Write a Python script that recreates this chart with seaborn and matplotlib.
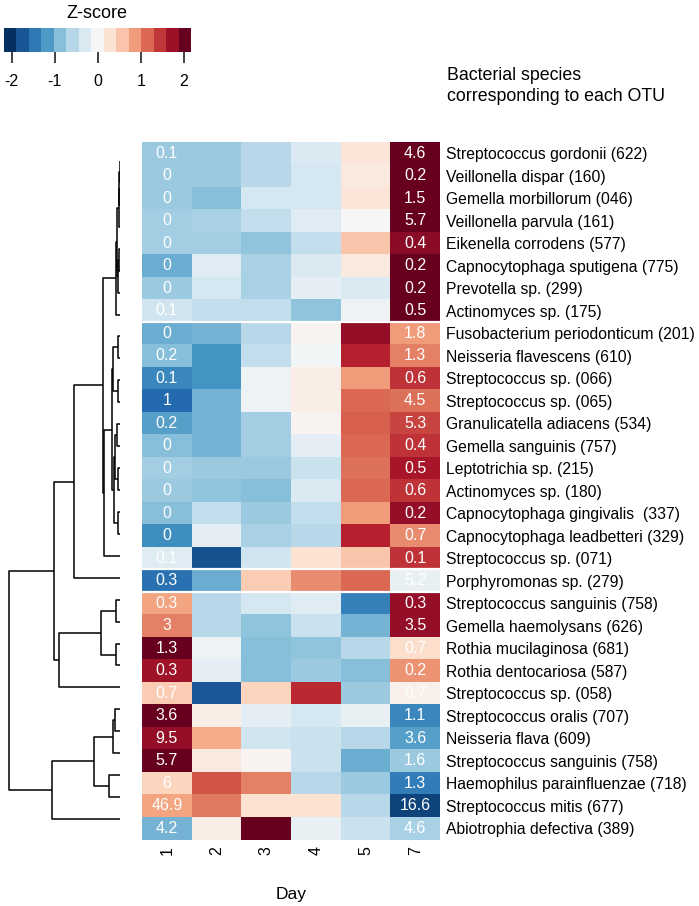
import numpy as np
import pandas as pd
import matplotlib
matplotlib.use("Agg")
import matplotlib.pyplot as plt
import seaborn as sns
from matplotlib.colors import ListedColormap, Normalize
from matplotlib.cm import ScalarMappable

# Data
days = ["1", "2", "3", "4", "5", "7"]
species = [
    "Streptococcus gordonii (622)", "Veillonella dispar (160)", "Gemella morbillorum (046)",
    "Veillonella parvula (161)", "Eikenella corrodens (577)", "Capnocytophaga sputigena (775)",
    "Prevotella sp. (299)", "Actinomyces sp. (175)", "Fusobacterium periodonticum (201)",
    "Neisseria flavescens (610)", "Streptococcus sp. (066)", "Streptococcus sp. (065)",
    "Granulicatella adiacens (534)", "Gemella sanguinis (757)", "Leptotrichia sp. (215)",
    "Actinomyces sp. (180)", "Capnocytophaga gingivalis  (337)", "Capnocytophaga leadbetteri (329)",
    "Streptococcus sp. (071)", "Porphyromonas sp. (279)", "Streptococcus sanguinis (758)",
    "Gemella haemolysans (626)", "Rothia mucilaginosa (681)", "Rothia dentocariosa (587)",
    "Streptococcus sp. (058)", "Streptococcus oralis (707)", "Neisseria flava (609)",
    "Streptococcus sanguinis (758)", "Haemophilus parainfluenzae (718)", "Streptococcus mitis (677)",
    "Abiotrophia defectiva (389)",
]

# row z-scores per day
z_day1 = [-0.75, -0.75, -0.75, -0.7, -0.7, -1.0, -0.75, -0.4, -1.0, -0.85, -1.3, -1.55, -1.1, -0.85,
          -0.7, -0.75, -0.85, -1.25, -0.25, -1.5, 0.8, 1.0, 2.0, 1.7, 0.5, 2.0, 1.75, 2.0, 0.45, 0.8, -0.95]
z_day2 = [-0.75, -0.75, -0.85, -0.65, -0.7, -0.25, -0.35, -0.5, -0.95, -1.2, -1.2, -0.95, -0.95, -0.95,
          -0.75, -0.8, -0.5, -0.2, -1.75, -1.0, -0.55, -0.55, -0.1, -0.2, -1.7, 0.15, 0.75, 0.2, 1.25, 1.05, 0.15]
z_day3 = [-0.55, -0.55, -0.35, -0.5, -0.8, -0.65, -0.65, -0.5, -0.55, -0.5, -0.1, -0.1, -0.7, -0.7,
          -0.75, -0.85, -0.75, -0.65, -0.4, 0.5, -0.35, -0.8, -0.85, -0.85, 0.45, -0.2, -0.4, 0.05, 1.0, 0.3, 2.0]
z_day4 = [-0.3, -0.35, -0.35, -0.25, -0.5, -0.3, -0.2, -0.8, 0.05, -0.05, 0.15, 0.15, 0.05, -0.2,
          -0.45, -0.3, -0.5, -0.55, 0.3, 0.95, -0.25, -0.45, -0.8, -0.75, 1.5, -0.35, -0.45, -0.45, -0.55, 0.3, -0.15]
z_day5 = [0.25, 0.2, 0.25, 0.0, 0.55, 0.2, -0.3, -0.1, 1.75, 1.55, 0.85, 1.15, 1.2, 1.15,
          1.1, 1.15, 0.85, 1.55, 0.55, 1.15, -1.35, -0.95, -0.55, -0.85, -0.75, -0.15, -0.55, -1.0, -0.75, -0.55, -0.45]
z_day7 = [2.0, 2.0, 2.0, 2.0, 1.8, 2.0, 2.0, 2.0, 0.85, 1.0, 1.45, 1.1, 1.35, 1.45,
          1.65, 1.45, 1.75, 0.95, 1.45, -0.15, 1.75, 1.75, 0.35, 0.9, 0.1, -1.3, -1.1, -0.75, -1.4, -1.85, -0.65]

# relative abundance shown on day 1 and day 7
abund_day1 = ["0.1", "0", "0", "0", "0", "0", "0", "0.1", "0", "0.2", "0.1", "1", "0.2", "0", "0", "0",
              "0", "0", "0.1", "0.3", "0.3", "3", "1.3", "0.3", "0.7", "3.6", "9.5", "5.7", "6", "46.9", "4.2"]
abund_day7 = ["4.6", "0.2", "1.5", "5.7", "0.4", "0.2", "0.2", "0.5", "1.8", "1.3", "0.6", "4.5", "5.3", "0.4",
              "0.5", "0.6", "0.2", "0.7", "0.1", "5.2", "0.3", "3.5", "0.7", "0.2", "0.7", "1.1", "3.6", "1.6",
              "1.3", "16.6", "4.6"]

# row dendrogram: (left, right, merge height), leaves are row indices
grp_a = (((((0, 1, 0.05), 2, 0.1), 3, 0.15), ((4, 5, 0.12), 6, 0.2), 0.3), 7, 0.4)
grp_e = ((8, 9, 0.2), (10, 11, 0.2), 0.7)
grp_f = (((12, 13, 0.3), (14, 15, 0.25), 0.5), (16, 17, 0.2), 0.6)
grp_d = ((grp_e, grp_f, 0.8), 18, 1.6)
grp_c = ((grp_a, grp_d, 1.7), 19, 4.6)
grp_i = (((20, 21, 0.4), (22, 23, 0.4), 1.9), 24, 6.1)
grp_j = ((((25, 26, 0.55), 27, 0.7), (28, 29, 1.1), 2.6), 30, 6.8)
tree = ((grp_c, grp_i, 6.6), grp_j, 11.1)

df = pd.DataFrame({"1": z_day1, "2": z_day2, "3": z_day3, "4": z_day4, "5": z_day5, "7": z_day7},
                  index=species)
annot = pd.DataFrame("", index=species, columns=days)
annot["1"] = abund_day1
annot["7"] = abund_day7

sns.set_style("white")
plt.rcParams["font.family"] = ["Liberation Sans", "DejaVu Sans"]
plt.rcParams["text.color"] = "black"
plt.rcParams["xtick.color"] = "black"
plt.rcParams["ytick.color"] = "black"
plt.rcParams["axes.labelcolor"] = "black"

W, H = 699, 906
fig = plt.figure(figsize=(W / 100, H / 100), dpi=100)
cmap = sns.color_palette("RdBu_r", as_cmap=True)

# Heatmap
hm_top, hm_bot = 141.75, 839.5
ax = fig.add_axes([142 / W, 1 - hm_bot / H, 298 / W, (hm_bot - hm_top) / H])
sns.heatmap(df, ax=ax, cmap=cmap, vmin=-2, vmax=2,
            cbar=False, annot=annot, fmt="", annot_kws={"color": "white", "fontsize": 11.5})
for gap in [8, 19, 20]:
    ax.axhline(gap, color="white", lw=1.6)
ax.yaxis.tick_right()
ax.set_yticks(np.arange(len(species)) + 0.5)
ax.set_yticklabels(species, rotation=0, fontsize=11.3)
ax.set_xticklabels(days, rotation=90, fontsize=11.5)
ax.tick_params(length=0, pad=5)
ax.tick_params(axis="y", pad=4.5)
ax.set_xlabel("Day", fontsize=12.5, labelpad=23)
ax.set_ylabel("")

# Dendrogram
axd = fig.add_axes([0, 1 - hm_bot / H, 120 / W, (hm_bot - hm_top) / H])
unit = (819 - 161) / 30
axd.set_ylim(30 + (hm_bot - 819) / unit, -(161 - hm_top) / unit)
axd.set_xlim(11.1 * 120 / 111, 0)
axd.axis("off")


def draw(node):
    if isinstance(node, int):
        return node, 0.0
    left, right, h = node
    yl, hl = draw(left)
    yr, hr = draw(right)
    axd.plot([hl, h, h, hr], [yl, yl, yr, yr], color="black", lw=1.1, solid_capstyle="butt")
    return (yl + yr) / 2, h


draw(tree)

# Colour key
axc = fig.add_axes([4 / W, 1 - 52 / H, 187 / W, 24 / H])
key_colors = cmap(np.linspace(0, 1, 15))
sm = ScalarMappable(norm=Normalize(-2.18, 2.17), cmap=ListedColormap(key_colors))
cb = fig.colorbar(sm, cax=axc, orientation="horizontal", ticks=[-2, -1, 0, 1, 2])
cb.outline.set_visible(False)
cb.ax.tick_params(length=8, width=1.2, pad=8, labelsize=11.5, color="#222222")
cb.ax.set_xticklabels(["-2", "-1", "0", "1", "2"])
fig.text(97 / W, 1 - 13 / H, "Z-score", ha="center", va="center", fontsize=13)

fig.text(447 / W, 1 - 86 / H, "Bacterial species\ncorresponding to each OTU",
         ha="left", va="center", fontsize=12.8, linespacing=1.3)

fig.savefig("out.png", dpi=100)
